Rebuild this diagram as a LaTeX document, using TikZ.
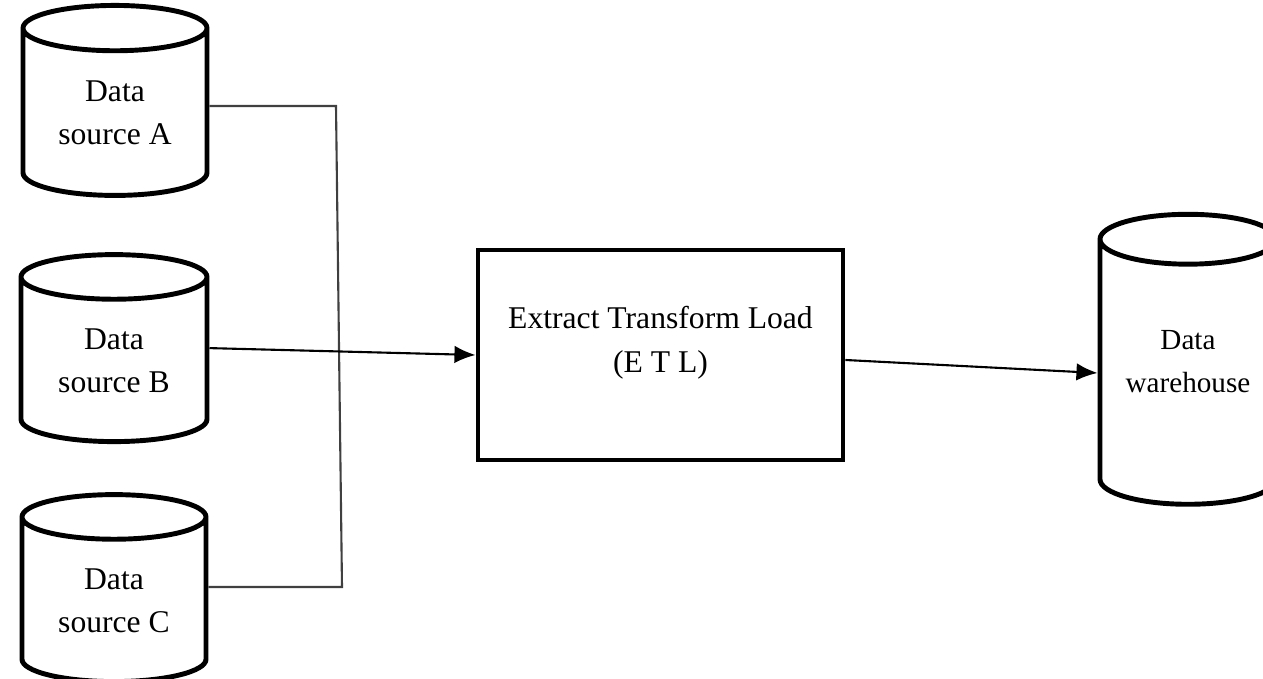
\documentclass[tikz,border=0pt]{standalone}
\usepackage{fontspec}
\setmainfont{Liberation Serif}
\usetikzlibrary{shapes.geometric, arrows.meta}

\tikzset{
	database/.style={cylinder, shape border rotate=90, draw, line width=1.4pt,
		aspect=0.4, align=center, inner sep=0pt,
		font=\fontsize{9}{12.3}\selectfont},
	process/.style={rectangle, draw, line width=1.4pt,
		minimum width=3.65cm, minimum height=2.1cm},
	link/.style={line width=0.6pt, draw=black!75},
	flow/.style={line width=0.6pt, -{Latex[length=6pt, width=5pt]}}
}

\begin{document}
\begin{tikzpicture}
	\useasboundingbox (0,0) rectangle (12.63,-6.79);

	% sources on the left, warehouse on the right
	\node[database, minimum width=1.84cm, minimum height=1.9cm] (srcA) at (1.15,-1.13) {Data\\source A};
	\node[database, minimum width=1.86cm, minimum height=1.87cm] (srcB) at (1.14,-3.605) {Data\\source B};
	\node[database, minimum width=1.84cm, minimum height=1.87cm] (srcC) at (1.14,-6.005) {Data\\source C};
	\node[database, minimum width=1.76cm, minimum height=2.9cm,
		font=\fontsize{8.3}{12.3}\selectfont] (dwh) at (11.88,-3.73) {Data\\warehouse\\[-0.2cm]\mbox{}};

	\node[process, label={[align=center, yshift=0.12cm, font=\fontsize{9}{12.5}\selectfont]center:Extract Transform Load\\(E T L)}] (etl) at (6.605,-3.55) {};

	% A and C joined by a bracket, B runs straight into the ETL box
	\coordinate (jtop) at (3.36,-1.06);
	\coordinate (jbot) at (3.42,-5.87);
	\draw[link] (srcA.east |- jtop) -- (jtop) -- (jbot) -- (srcC.east |- jbot);
	\draw[flow] (srcB.shape center -| srcB.east) -- (etl.west);
	\draw[flow] ([yshift=-0.05cm]etl.east) -- (dwh.west);
\end{tikzpicture}
\end{document}
